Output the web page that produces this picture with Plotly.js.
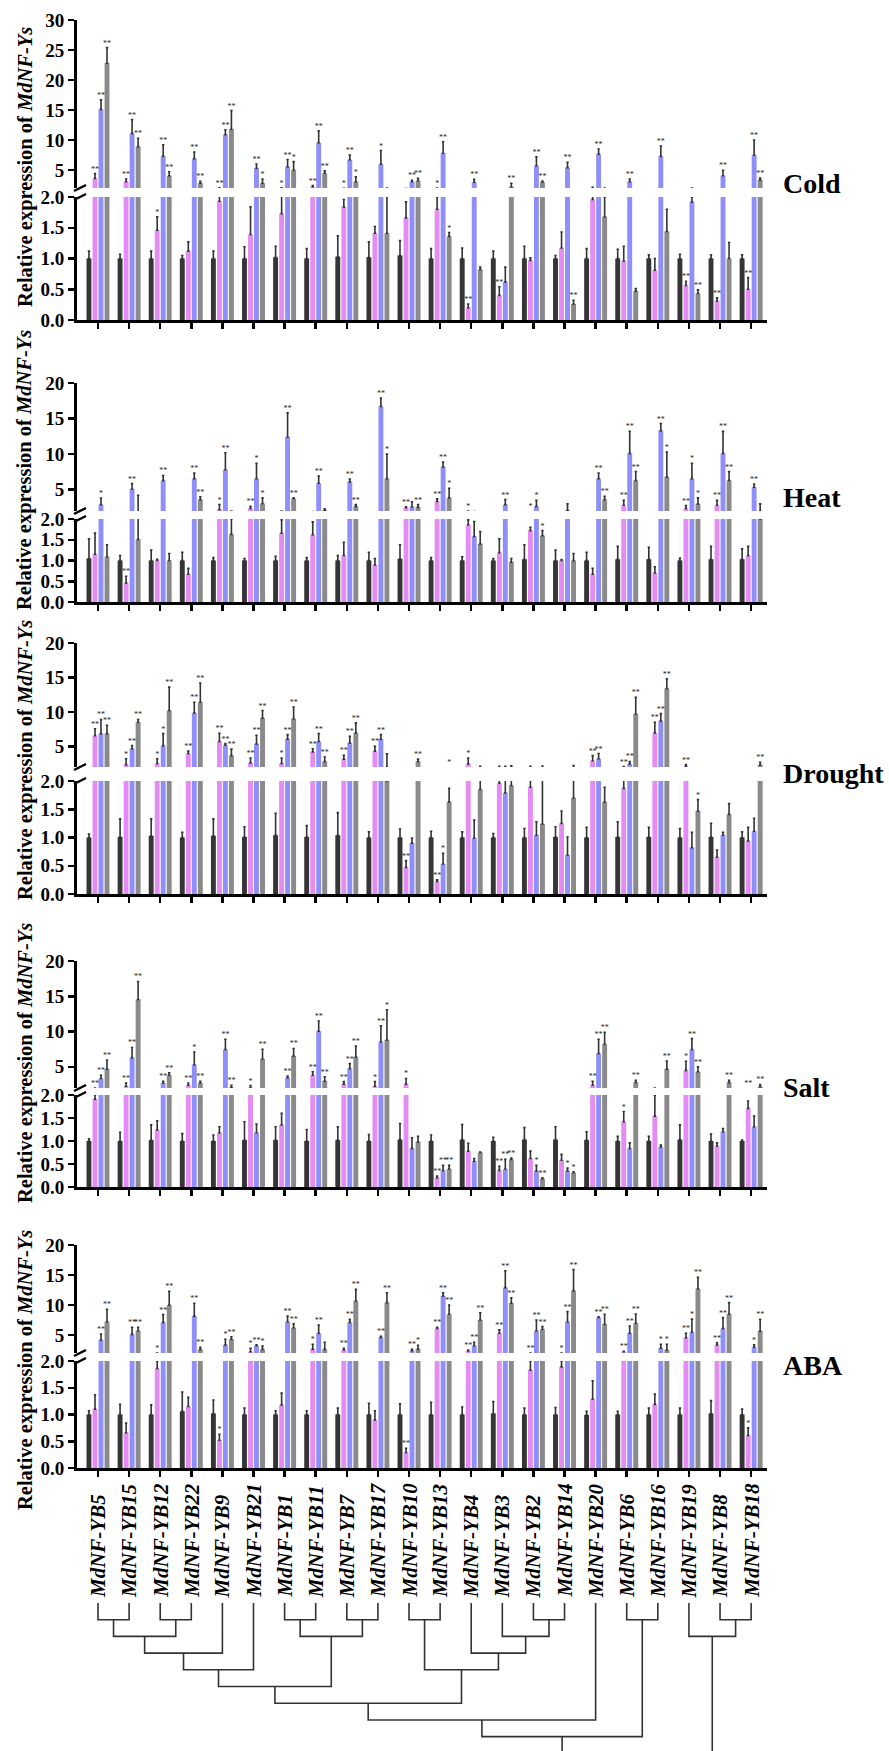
<!DOCTYPE html>
<html><head><meta charset="utf-8">
<script src="https://cdn.plot.ly/plotly-3.0.1.min.js"></script>
<style>html,body{margin:0;padding:0;background:#fff}#chart{width:889px;height:1751px}</style>
</head><body><div id="chart"></div>
<script>
// ---------------- DATA ----------------
const genes = ["MdNF-YB5","MdNF-YB15","MdNF-YB12","MdNF-YB22","MdNF-YB9","MdNF-YB21","MdNF-YB1","MdNF-YB11","MdNF-YB7","MdNF-YB17","MdNF-YB10","MdNF-YB13","MdNF-YB4","MdNF-YB3","MdNF-YB2","MdNF-YB14","MdNF-YB20","MdNF-YB6","MdNF-YB16","MdNF-YB19","MdNF-YB8","MdNF-YB18"];
const conditions = ["Cold","Heat","Drought","Salt","ABA"];
const upperMax = [30,20,20,20,20];
const upperTicks = [[5,10,15,20,25,30],[5,10,15,20],[5,10,15,20],[5,10,15,20],[5,10,15,20]];
const lowerTicks = [0,0.5,1,1.5,2];
const lowerTickText = ["0.0","0.5","1.0","1.5","2.0"];

// Cold
const coldBlack = [1.0,1.0,1.0,1.0,1.0,1.0,1.02,1.0,1.03,1.02,1.05,1.0,1.0,1.0,1.0,1.0,1.0,1.0,1.0,1.0,1.0,1.0];
const coldBlackErr = [0.12,0.07,0.12,0.05,0.12,0.19,0.18,0.16,0.34,0.25,0.24,0.16,0.17,0.12,0.2,0.05,0.16,0.15,0.06,0.07,0.06,0.06];
const coldPink = [3.6,3.05,1.46,1.12,1.93,1.39,1.73,2.2,1.84,1.41,1.66,1.8,0.2,0.4,0.97,1.17,1.96,0.96,0.81,0.56,0.31,0.5];
const coldPinkErr = [0.8,0.45,0.22,0.15,0.1,0.45,0.3,0.2,0.12,0.11,0.26,0.2,0.06,0.14,0.04,0.26,0.15,0.24,0.19,0.07,0.05,0.19];
const coldBlue = [15.1,11.1,7.3,6.9,10.9,5.3,5.55,9.55,6.7,5.95,3.05,7.8,2.95,0.62,5.7,5.4,7.65,3.05,7.3,1.92,4.05,7.5];
const coldBlueErr = [1.6,2.3,1.9,1.1,0.8,0.7,1.2,2.0,0.8,2.3,0.25,1.9,0.5,0.24,1.5,0.9,0.85,0.45,1.7,0.08,0.9,2.5];
const coldGray = [22.8,8.9,4.05,2.8,11.8,2.8,5.0,4.45,3.05,1.41,3.2,1.36,0.82,2.2,2.95,0.26,1.68,0.47,1.44,0.43,1.0,3.35];
const coldGrayErr = [2.6,1.4,0.65,0.3,3.1,0.7,1.4,0.4,0.8,0.6,0.4,0.06,0.04,0.6,0.2,0.06,0.32,0.04,0.36,0.06,0.26,0.3];
const coldPinkStars = ["**","**","*","","**","","*","**","*","","","*","**","**","","","","","","**","**","**"];
const coldBlueStars = ["**","**","**","**","**","**","**","**","**","*","**","**","**","","**","**","**","**","**","","**","**"];
const coldGrayStars = ["**","**","**","**","**","*","*","**","*","","**","*","","**","**","**","","","","**","","**"];

// Heat
const heatBlack = [1.05,1.0,1.0,1.0,1.0,1.0,1.0,1.0,1.0,1.0,1.04,1.0,1.0,1.0,1.03,1.0,1.0,1.03,1.03,1.0,1.03,1.03];
const heatBlackErr = [0.47,0.12,0.25,0.2,0.07,0.05,0.1,0.07,0.12,0.2,0.34,0.07,0.09,0.05,0.35,0.25,0.2,0.31,0.29,0.06,0.31,0.25];
const heatPink = [1.15,0.46,1.0,0.67,2.2,2.35,1.66,1.62,1.12,0.89,2.45,3.35,1.86,1.19,1.72,1.0,0.67,2.8,0.7,2.35,2.8,1.12];
const heatPinkErr = [0.51,0.16,0.03,0.14,0.7,0.3,0.32,0.31,0.32,0.16,0.15,0.35,0.12,0.33,0.08,0.02,0.14,0.7,0.15,0.4,0.7,0.22];
const heatBlue = [2.9,5.1,6.3,6.55,7.8,6.55,12.4,5.9,6.1,16.7,2.6,8.2,1.58,2.9,2.65,2.1,6.55,10.1,13.3,6.55,10.1,5.35];
const heatBlueErr = [0.93,0.75,0.7,0.8,2.4,2.15,3.4,1.0,0.4,1.2,0.7,0.7,0.36,0.7,0.85,0.9,0.8,3.1,1.0,2.15,3.1,0.45];
const heatGray = [1.09,1.51,1.0,3.6,1.63,3.05,3.75,2.1,2.65,6.55,2.55,3.85,1.4,0.96,1.6,1.0,3.6,6.3,6.8,3.0,6.3,2.0];
const heatGrayErr = [0.29,2.7,0.17,0.4,0.37,0.8,0.1,0.2,0.25,3.45,0.35,1.35,0.3,0.09,0.12,0.17,0.45,1.25,3.5,0.85,1.25,1.0];
const heatPinkStars = ["","**","","","*","**","","","","","**","**","*","","*","","","**","","**","**",""];
const heatBlueStars = ["*","**","**","**","**","*","**","**","**","**","","**","","**","*","","**","**","**","*","**","**"];
const heatGrayStars = ["","","","**","","*","**","","**","*","**","*","","","*","","**","**","*","*","**",""];

// Drought
const droughtBlack = [1.0,1.01,1.03,1.0,1.03,1.01,1.04,1.01,1.04,1.0,1.0,1.0,1.0,1.0,1.0,1.01,1.0,1.01,1.01,1.0,1.01,1.0];
const droughtBlackErr = [0.06,0.32,0.3,0.09,0.3,0.18,0.39,0.2,0.4,0.1,0.15,0.11,0.1,0.07,0.16,0.18,0.18,0.27,0.17,0.16,0.24,0.1];
const droughtPink = [6.55,2.35,2.5,3.95,5.7,2.6,2.5,4.2,3.15,4.3,0.47,0.22,2.45,1.96,1.89,1.25,2.9,1.87,6.95,2.1,0.65,0.94];
const droughtPinkErr = [1.0,0.85,0.7,0.35,1.2,0.7,0.8,0.45,0.55,0.7,0.12,0.03,0.85,0.15,0.2,0.22,0.75,0.2,1.55,0.25,0.13,0.24];
const droughtBlue = [6.85,4.65,5.1,9.85,5.15,5.35,6.05,5.7,5.5,6.05,0.9,0.53,0.99,1.79,1.04,0.69,3.2,2.45,8.7,0.82,1.04,1.11];
const droughtBlueErr = [2.05,0.45,1.75,1.55,0.25,1.25,0.65,1.15,0.95,0.65,0.09,0.19,0.32,0.3,0.24,0.32,0.75,0.35,1.05,0.27,0.05,0.23];
const droughtGray = [6.85,8.5,10.2,11.4,3.65,9.1,9.0,2.8,6.95,2.0,2.8,1.63,1.85,1.92,1.24,1.7,1.63,9.7,13.4,1.47,1.41,2.3];
const droughtGrayErr = [1.2,0.4,3.4,2.8,0.95,1.1,1.7,0.65,1.45,1.9,0.35,0.24,0.25,0.25,0.9,0.5,0.26,2.4,1.4,0.2,0.19,0.4];
const droughtPinkStars = ["**","*","*","**","**","**","*","**","**","**","**","**","*","","","","**","**","**","**","",""];
const droughtBlueStars = ["**","**","*","**","**","**","**","**","**","**","","*","","","","","**","**","**","","",""];
const droughtGrayStars = ["**","**","**","**","**","**","**","**","**","","**","*","","","","","","**","**","*","","**"];

// Salt
const saltBlack = [1.0,1.0,1.02,1.0,1.0,1.02,1.02,1.0,1.02,1.0,1.03,1.0,1.03,1.0,1.03,1.03,1.02,1.0,1.0,1.03,1.0,1.0];
const saltBlackErr = [0.05,0.19,0.33,0.16,0.13,0.4,0.29,0.25,0.29,0.14,0.35,0.13,0.33,0.08,0.26,0.28,0.18,0.1,0.1,0.32,0.15,0.02];
const saltPink = [1.91,2.25,1.24,2.4,1.18,2.05,1.35,3.8,2.55,2.25,2.55,0.2,0.78,0.36,0.62,0.58,2.4,1.42,1.54,4.5,0.89,1.71];
const saltPinkErr = [0.09,0.45,0.2,0.3,0.13,0.3,0.25,0.5,0.35,0.65,0.8,0.04,0.17,0.09,0.16,0.13,0.55,0.22,0.45,1.3,0.07,0.16];
const saltBlue = [3.35,6.3,2.7,5.3,7.45,1.18,3.45,10.05,4.75,8.55,0.84,0.36,0.56,0.39,0.35,0.35,6.9,0.84,0.87,7.45,1.2,1.31];
const saltBlueErr = [0.45,1.45,0.25,1.8,1.45,0.19,0.25,1.45,0.7,2.25,0.23,0.11,0.06,0.21,0.12,0.06,2.0,0.12,0.04,1.55,0.07,0.23];
const saltGray = [4.67,14.55,3.8,2.7,2.1,6.1,6.55,3.0,6.4,8.8,0.98,0.39,0.75,0.6,0.18,0.31,8.2,2.8,4.67,4.3,2.8,2.2];
const saltGrayErr = [1.3,2.55,0.35,0.25,0.3,1.4,1.05,0.6,1.55,4.3,0.12,0.08,0.01,0.03,0.02,0.02,1.7,0.3,1.15,0.7,0.3,0.3];
const saltPinkStars = ["**","**","","**","","*","","**","**","*","*","**","","**","","","**","*","","*","","**"];
const saltBlueStars = ["**","**","**","*","**","","**","**","**","**","","**","","**","*","*","**","","","**","",""];
const saltGrayStars = ["**","**","**","**","**","**","**","**","**","*","","**","","**","**","*","**","**","**","**","**","**"];

// ABA
const abaBlack = [1.0,1.0,1.0,1.06,1.02,1.0,1.0,1.0,1.0,1.0,1.0,1.0,1.0,1.02,1.0,1.0,0.99,1.0,1.0,1.0,1.02,1.0];
const abaBlackErr = [0.07,0.19,0.18,0.36,0.25,0.12,0.07,0.07,0.12,0.21,0.2,0.23,0.14,0.22,0.12,0.13,0.07,0.06,0.12,0.12,0.24,0.1];
const abaPink = [1.1,0.66,1.86,1.15,0.52,2.2,1.18,2.65,2.5,0.9,0.29,6.1,2.35,5.3,1.83,1.89,1.29,2.2,1.19,4.55,3.35,0.61];
const abaPinkErr = [0.27,0.18,0.14,0.17,0.11,0.6,0.22,0.8,0.3,0.17,0.08,0.2,0.15,0.55,0.17,0.11,0.34,0.1,0.19,0.75,0.35,0.14];
const abaBlue = [4.17,5.1,7.1,8.15,3.35,3.2,7.2,5.3,7.1,4.6,2.4,11.5,3.2,12.9,5.7,7.2,7.9,5.3,2.8,5.45,6.1,2.95];
const abaBlueErr = [1.0,1.2,1.3,2.15,0.95,0.15,0.95,1.35,0.5,0.2,0.2,0.55,0.6,2.8,1.8,1.7,0.15,1.2,0.65,2.2,1.8,0.4];
const abaGray = [7.2,5.7,10.0,2.6,4.3,2.6,6.2,2.6,10.7,10.4,2.65,8.45,7.5,10.3,5.95,12.4,6.8,6.95,2.5,12.7,8.5,5.65];
const abaGrayErr = [2.1,0.6,2.3,0.35,0.4,0.55,0.65,1.2,1.9,1.65,0.65,1.55,1.2,0.9,0.45,3.5,1.65,1.55,0.95,1.9,1.9,1.95];
const abaPinkStars = ["","","*","","*","*","","*","**","","**","**","**","**","**","*","","**","","**","**","*"];
const abaBlueStars = ["**","**","**","**","*","**","**","**","**","**","**","**","**","**","**","**","**","**","*","*","**","*"];
const abaGrayStars = ["**","**","**","**","**","*","**","","**","**","*","**","**","**","**","**","**","**","*","**","**","**"];

// Dendrogram merges: [childA, childB, level]; new node ids start at 22
const dendroMerges = [[0,1,1],[2,3,1],[22,23,2],[24,4,3],[25,5,4],[6,7,1],[8,9,1],[27,28,2],[26,29,5],[10,11,1],[14,15,1],[13,32,2],[12,33,3],[31,34,4],[30,35,6],[36,16,7],[17,18,1],[37,38,8],[20,21,1],[19,40,2]];
const dendroRoots = [39,41];

// ---------------- STYLE / GEOMETRY ----------------
const W = 889, H = 1751;
const FONT = "Liberation Serif, Times New Roman, serif";
const px = p => p / W;
const py = p => 1 - p / H;
const X0 = 77, X1 = 767;
const XR = [-0.675, 21.51];
const geom = [
  {ut:20,  ub:188,  lt:197,  lb:320,  label:183,  title:167},
  {ut:383, ub:511,  lt:519,  lb:602,  label:497,  title:470},
  {ut:643, ub:767,  lt:781,  lb:894,  label:773,  title:760},
  {ut:961, ub:1088, lt:1095, lb:1187, label:1087, title:1063},
  {ut:1245,ub:1353, lt:1361, lb:1468, label:1365, title:1370}
];
const seriesStyle = [
  {color:'#353535', center:-0.29},
  {color:'#e48cf3', center:-0.096},
  {color:'#8f8ff9', center:0.096},
  {color:'#8a8a8a', center:0.29}
];
const BW = 0.158;

const panelData = [
  {vals:[coldBlack,coldPink,coldBlue,coldGray], errs:[coldBlackErr,coldPinkErr,coldBlueErr,coldGrayErr], stars:[null,coldPinkStars,coldBlueStars,coldGrayStars]},
  {vals:[heatBlack,heatPink,heatBlue,heatGray], errs:[heatBlackErr,heatPinkErr,heatBlueErr,heatGrayErr], stars:[null,heatPinkStars,heatBlueStars,heatGrayStars]},
  {vals:[droughtBlack,droughtPink,droughtBlue,droughtGray], errs:[droughtBlackErr,droughtPinkErr,droughtBlueErr,droughtGrayErr], stars:[null,droughtPinkStars,droughtBlueStars,droughtGrayStars]},
  {vals:[saltBlack,saltPink,saltBlue,saltGray], errs:[saltBlackErr,saltPinkErr,saltBlueErr,saltGrayErr], stars:[null,saltPinkStars,saltBlueStars,saltGrayStars]},
  {vals:[abaBlack,abaPink,abaBlue,abaGray], errs:[abaBlackErr,abaPinkErr,abaBlueErr,abaGrayErr], stars:[null,abaPinkStars,abaBlueStars,abaGrayStars]}
];

const traces = [];
const layout = {
  width: W, height: H, margin:{l:0,r:0,t:0,b:0},
  paper_bgcolor:'#fff', plot_bgcolor:'#fff',
  showlegend:false, barmode:'overlay',
  font:{family:FONT, color:'#000'},
  annotations:[], shapes:[]
};
const idx = genes.map((_, i) => i);
const tickFont = {family:FONT, size:19, color:'#000', weight:'bold'};

conditions.forEach((cond, p) => {
  const g = geom[p];
  const xName = p === 0 ? 'x' : 'x' + (p + 1);
  const yl = 2 * p + 1, yu = 2 * p + 2;
  const ylName = yl === 1 ? 'y' : 'y' + yl;
  const yuName = 'y' + yu;
  layout[p === 0 ? 'xaxis' : 'xaxis' + (p + 1)] = {
    domain:[px(X0), px(X1)], range:XR, anchor: ylName,
    tickvals: idx, showticklabels:false, ticks:'outside', ticklen:6, tickwidth:2.5, tickcolor:'#000',
    showline:true, linewidth:3, linecolor:'#000', showgrid:false, zeroline:false, fixedrange:true
  };
  layout[yl === 1 ? 'yaxis' : 'yaxis' + yl] = {
    domain:[py(g.lb), py(g.lt)], range:[0,2], anchor:xName,
    tickvals: lowerTicks, ticktext: lowerTickText, tickfont: tickFont,
    ticks:'outside', ticklen:6, tickwidth:2.5, tickcolor:'#000',
    showline:true, linewidth:3, linecolor:'#000', showgrid:false, zeroline:false, fixedrange:true
  };
  layout['yaxis' + yu] = {
    domain:[py(g.ub), py(g.ut)], range:[2, upperMax[p]], anchor:xName,
    tickvals: upperTicks[p], ticktext: upperTicks[p].map(String), tickfont: tickFont,
    ticks:'outside', ticklen:6, tickwidth:2.5, tickcolor:'#000',
    showline:true, linewidth:3, linecolor:'#000', showgrid:false, zeroline:false, fixedrange:true
  };
  const d = panelData[p];
  for (let s = 0; s < 4; s++) {
    [ylName, yuName].forEach(yn => {
      traces.push({
        type:'bar', x: idx, y: d.vals[s], width: BW, offset: seriesStyle[s].center - BW/2,
        xaxis: xName, yaxis: yn,
        marker:{color: seriesStyle[s].color, line:{width:0}},
        error_y:{type:'data', symmetric:false, array:d.errs[s], arrayminus:d.vals[s].map(() => 0),
                 color:'#333', thickness:1.6, width:1.2},
        hoverinfo:'skip', showlegend:false
      });
    });
    if (d.stars[s]) {
      const lo = {x:[], y:[], t:[]}, up = {x:[], y:[], t:[]};
      d.stars[s].forEach((st, i) => {
        if (!st) return;
        const top = d.vals[s][i] + d.errs[s][i];
        const xx = i + seriesStyle[s].center;
        if (top < 1.8) { lo.x.push(xx); lo.y.push(top); lo.t.push(st); }
        else { up.x.push(xx); up.y.push(Math.max(top, 2.05)); up.t.push(st); }
      });
      [[lo, ylName], [up, yuName]].forEach(([o, yn]) => {
        traces.push({
          type:'scatter', mode:'text', x:o.x, y:o.y, text:o.t, textposition:'top center',
          textfont:{family:FONT, size:8, color:'#222'}, xaxis:xName, yaxis:yn,
          hoverinfo:'skip', showlegend:false
        });
      });
    }
  }
  layout.annotations.push({
    xref:'paper', yref:'paper', x:px(781), y:py(g.label), xanchor:'left', yanchor:'middle',
    text: cond, showarrow:false, font:{family:FONT, size:28, color:'#000', weight:'bold'}
  });
  layout.annotations.push({
    xref:'paper', yref:'paper', x:px(25), y:py(g.title), xanchor:'center', yanchor:'middle',
    textangle:-90, text:'Relative expression of <i>MdNF-Ys</i>', showarrow:false,
    font:{family:FONT, size:20.5, color:'#000', weight:'bold'}
  });
  [g.ub, g.lt].forEach(yy => {
    layout.shapes.push({type:'line', xref:'paper', yref:'paper',
      x0:px(74), y0:py(yy + 3), x1:px(86), y1:py(yy - 3), line:{color:'#000', width:2.5}});
  });
});

genes.forEach((gname, i) => {
  layout.annotations.push({
    xref:'x5', yref:'paper', x:i, y:py(1600), xanchor:'center', yanchor:'bottom',
    textangle:-90, text:'<i>' + gname + '</i>', showarrow:false,
    font:{family:FONT, size:21, color:'#000', weight:'bold'}
  });
});

const pos = idx.slice(), hgt = idx.map(() => 0);
const dx = [], dy = [];
dendroMerges.forEach(([a, b, h]) => {
  dx.push(pos[a], pos[a], pos[b], pos[b], null);
  dy.push(hgt[a], h, h, hgt[b], null);
  pos.push((pos[a] + pos[b]) / 2); hgt.push(h);
});
dendroRoots.forEach(r => { dx.push(pos[r], pos[r], null); dy.push(hgt[r], 10, null); });
layout.xaxis6 = {domain:[px(X0), px(X1)], range:XR, anchor:'y11', visible:false, fixedrange:true};
layout.yaxis11 = {domain:[0, py(1603)], range:[8.86, 0], anchor:'x6', visible:false, fixedrange:true};
traces.push({type:'scatter', mode:'lines', x:dx, y:dy, xaxis:'x6', yaxis:'y11',
  line:{color:'#333', width:1.6}, connectgaps:false, hoverinfo:'skip', showlegend:false});

Plotly.newPlot('chart', traces, layout, {staticPlot:true, displayModeBar:false});
</script></body></html>
